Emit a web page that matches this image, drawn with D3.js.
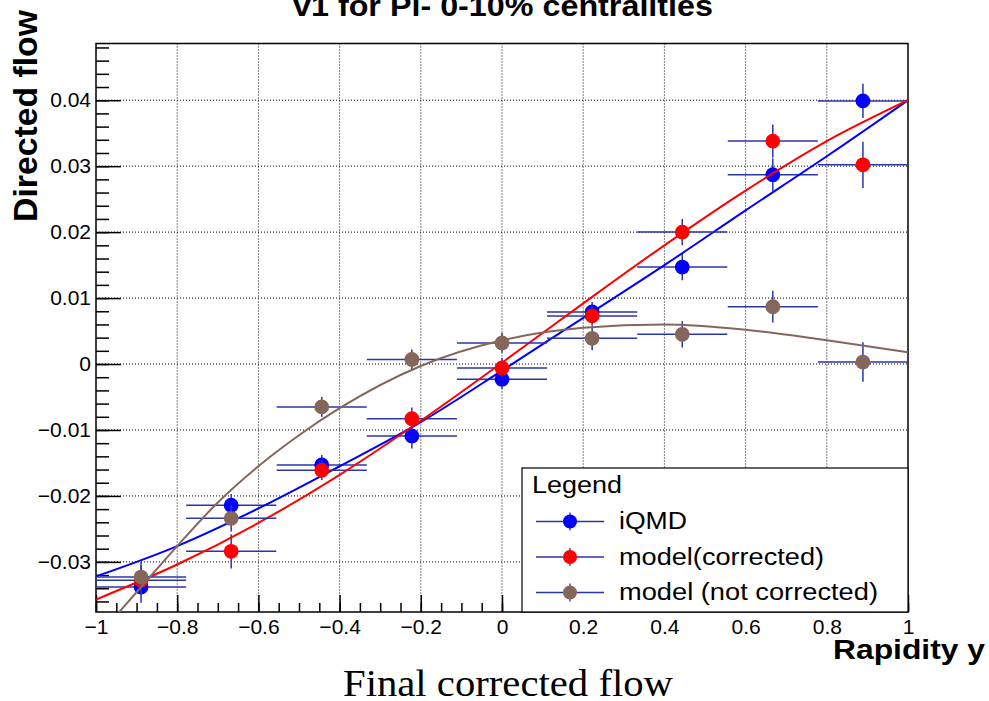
<!DOCTYPE html>
<html>
<head>
<meta charset="utf-8">
<script src="https://cdn.jsdelivr.net/npm/d3@7/dist/d3.min.js"></script>
<style>
  body { margin: 0; background: #fff; }
  svg text { font-family: "Liberation Sans", Arial, sans-serif; }
</style>
</head>
<body>
<div id="vis"></div>
<script>
// rapidity bins (centres) and half width of each bin
const rapidity = [-0.889, -0.667, -0.444, -0.222, 0, 0.222, 0.444, 0.667, 0.889];
const binHalf = 0.111;

// v1 values
const iqmdV1   = [-0.0338, -0.0214, -0.0153, -0.0109, -0.0023, 0.0079, 0.0147, 0.0287, 0.0399];
const iqmdErr  = [0.0024, 0.0017, 0.0015, 0.0019, 0.0015, 0.0015, 0.0020, 0.0025, 0.0026];
const corrV1   = [-0.0328, -0.0284, -0.0161, -0.0083, -0.0006, 0.0073, 0.0200, 0.0338, 0.0302];
const corrErr  = [0.0022, 0.0026, 0.0015, 0.0017, 0.0015, 0.0015, 0.0020, 0.0025, 0.0035];
const rawV1    = [-0.0323, -0.0234, -0.0065, 0.0007, 0.0032, 0.0039, 0.0045, 0.0087, 0.0003];
const rawErr   = [0.0023, 0.0020, 0.0015, 0.0015, 0.0015, 0.0018, 0.0020, 0.0024, 0.0030];

// fit curves
const fitX      = [-1, -0.8, -0.6, -0.4, -0.2, 0, 0.2, 0.4, 0.6, 0.8, 1];
const fitIqmd   = [-0.0322, -0.0276, -0.0219, -0.0155, -0.0088, -0.0010, 0.0070, 0.0150, 0.0233, 0.0315, 0.0400];
const fitCorr   = [-0.0357, -0.0304, -0.0241, -0.0168, -0.0086, 0.0002, 0.0092, 0.0180, 0.0263, 0.0338, 0.0400];
const fitRawX   = [-0.96, -0.9, -0.8, -0.7, -0.6, -0.5, -0.4, -0.2, 0, 0.2, 0.4, 0.6, 0.8, 1];
const fitRaw    = [-0.0388, -0.0346, -0.0276, -0.0210, -0.0155, -0.0108, -0.0067, -0.0003, 0.0036, 0.0055, 0.0060, 0.0052, 0.0036, 0.0018];

// axes
const xTicks = [-1, -0.8, -0.6, -0.4, -0.2, 0, 0.2, 0.4, 0.6, 0.8, 1];
const xTickLabels = ["\u22121", "\u22120.8", "\u22120.6", "\u22120.4", "\u22120.2", "0", "0.2", "0.4", "0.6", "0.8", "1"];
const yTicks = [-0.03, -0.02, -0.01, 0, 0.01, 0.02, 0.03, 0.04];
const yTickLabels = ["\u22120.03", "\u22120.02", "\u22120.01", "0", "0.01", "0.02", "0.03", "0.04"];

const seriesNames = ["iQMD", "model(corrected)", "model (not corrected)"];
const seriesColors = ["#0000ff", "#ff0000", "#85665a"];

var W = 989, H = 701;
var frame = {left: 96, top: 43.5, right: 908, bottom: 612};
var errColor = "#2a36a8";

var svg = d3.select("#vis").append("svg")
    .attr("width", W)
    .attr("height", H);

var x = d3.scaleLinear().domain([-1, 1]).range([frame.left, frame.right]);
var y = d3.scaleLinear().domain([-0.0376, 0.0486]).range([frame.bottom, frame.top]);

svg.append("defs").append("clipPath").attr("id", "plotclip")
  .append("rect")
    .attr("x", frame.left).attr("y", frame.top)
    .attr("width", frame.right - frame.left)
    .attr("height", frame.bottom - frame.top);

// GRID
var grid = svg.append("g").attr("class", "grid");
grid.selectAll(".gx").data(xTicks.slice(1, -1)).enter().append("line")
    .attr("x1", d => x(d)).attr("x2", d => x(d))
    .attr("y1", frame.top).attr("y2", frame.bottom)
    .attr("stroke", "#000").attr("stroke-width", 1).attr("stroke-dasharray", "1,2");
grid.selectAll(".gy").data(yTicks).enter().append("line")
    .attr("x1", frame.left).attr("x2", frame.right)
    .attr("y1", d => y(d)).attr("y2", d => y(d))
    .attr("stroke", "#000").attr("stroke-width", 1).attr("stroke-dasharray", "1,2");

// AXES (ticks point into the frame like ROOT)
var xMinor = d3.range(-1, 1.0001, 0.05);
var yMinor = d3.range(-0.036, 0.0481, 0.002);

svg.append("g")
    .attr("transform", "translate(0," + frame.bottom + ")")
    .call(d3.axisBottom(x).tickValues(xMinor).tickSize(-9).tickFormat(""))
    .call(g => g.select(".domain").remove());
svg.append("g")
    .attr("transform", "translate(0," + frame.bottom + ")")
    .call(d3.axisBottom(x).tickValues(xTicks).tickSize(-17).tickPadding(7)
      .tickFormat((d, i) => xTickLabels[i]))
    .call(g => g.select(".domain").remove())
    .call(g => g.selectAll("text").attr("font-size", 21).attr("fill", "#000")
      .attr("font-family", "Liberation Sans, Arial, sans-serif"));

svg.append("g")
    .attr("transform", "translate(" + frame.left + ",0)")
    .call(d3.axisLeft(y).tickValues(yMinor).tickSize(-13).tickFormat(""))
    .call(g => g.select(".domain").remove());
svg.append("g")
    .attr("transform", "translate(" + frame.left + ",0)")
    .call(d3.axisLeft(y).tickValues(yTicks).tickSize(-25).tickPadding(5)
      .tickFormat((d, i) => yTickLabels[i]))
    .call(g => g.select(".domain").remove())
    .call(g => g.selectAll("text").attr("font-size", 21).attr("fill", "#000")
      .attr("font-family", "Liberation Sans, Arial, sans-serif"));

svg.selectAll(".tick line").attr("stroke", "#000").attr("stroke-width", 1.5);

// FRAME
svg.append("rect")
    .attr("x", frame.left).attr("y", frame.top)
    .attr("width", frame.right - frame.left)
    .attr("height", frame.bottom - frame.top)
    .attr("fill", "none").attr("stroke", "#000").attr("stroke-width", 1.5);

// GRAPHS
var line = d3.line().curve(d3.curveMonotoneX);
var graphs = [
  {v: iqmdV1, e: iqmdErr, fx: fitX, fy: fitIqmd, color: seriesColors[0]},
  {v: corrV1, e: corrErr, fx: fitX, fy: fitCorr, color: seriesColors[1]},
  {v: rawV1, e: rawErr, fx: fitRawX, fy: fitRaw, color: seriesColors[2]}
];

graphs.forEach(function(gr) {
  var g = svg.append("g");
  var pts = rapidity.map((r, i) => ({r: r, v: gr.v[i], e: gr.e[i]}));

  g.selectAll(".ex").data(pts).enter().append("line")
      .attr("x1", d => x(d.r - binHalf)).attr("x2", d => x(d.r + binHalf))
      .attr("y1", d => y(d.v)).attr("y2", d => y(d.v))
      .attr("stroke", errColor).attr("stroke-width", 1.5);
  g.selectAll(".ey").data(pts).enter().append("line")
      .attr("x1", d => x(d.r)).attr("x2", d => x(d.r))
      .attr("y1", d => y(d.v - d.e)).attr("y2", d => y(d.v + d.e))
      .attr("stroke", errColor).attr("stroke-width", 1.5);
  g.selectAll("circle").data(pts).enter().append("circle")
      .attr("cx", d => x(d.r)).attr("cy", d => y(d.v))
      .attr("r", 7.4)
      .attr("fill", gr.color);

  g.append("path")
      .attr("clip-path", "url(#plotclip)")
      .attr("d", line(gr.fx.map((fx, i) => [x(fx), y(gr.fy[i])])))
      .attr("fill", "none")
      .attr("stroke", gr.color)
      .attr("stroke-width", 2);
});

// LEGEND
var leg = svg.append("g");
leg.append("rect")
    .attr("x", 522).attr("y", 468)
    .attr("width", frame.right - 522).attr("height", frame.bottom - 468)
    .attr("fill", "#fff").attr("stroke", "#000").attr("stroke-width", 1.2);
leg.append("text")
    .attr("x", 532).attr("y", 493)
    .attr("font-size", 23)
    .attr("textLength", 90).attr("lengthAdjust", "spacingAndGlyphs")
    .text("Legend");

var legWidths = [68, 205, 259];
seriesNames.forEach(function(name, i) {
  var base = 529 + i * 35.5;
  var my = base - 7.5;
  leg.append("line")
      .attr("x1", 536).attr("x2", 604).attr("y1", my).attr("y2", my)
      .attr("stroke", errColor).attr("stroke-width", 1.3);
  leg.append("line")
      .attr("x1", 570).attr("x2", 570).attr("y1", my - 9).attr("y2", my + 9)
      .attr("stroke", errColor).attr("stroke-width", 1.3);
  leg.append("circle")
      .attr("cx", 570).attr("cy", my).attr("r", 7)
      .attr("fill", seriesColors[i]);
  leg.append("text")
      .attr("x", 619).attr("y", base)
      .attr("font-size", 23)
      .attr("textLength", legWidths[i]).attr("lengthAdjust", "spacingAndGlyphs")
      .text(name);
});

// TITLES
svg.append("text")
    .attr("x", 503).attr("y", 16)
    .attr("text-anchor", "middle")
    .attr("font-size", 30).attr("font-weight", "bold")
    .attr("textLength", 420).attr("lengthAdjust", "spacingAndGlyphs")
    .text("v1 for Pi- 0-10% centralities");

svg.append("text")
    .attr("transform", "translate(37,10) rotate(-90)")
    .attr("text-anchor", "end")
    .attr("font-size", 33).attr("font-weight", "bold")
    .attr("textLength", 212).attr("lengthAdjust", "spacingAndGlyphs")
    .text("Directed flow");

svg.append("text")
    .attr("x", 985).attr("y", 659)
    .attr("text-anchor", "end")
    .attr("font-size", 27).attr("font-weight", "bold")
    .attr("textLength", 152).attr("lengthAdjust", "spacingAndGlyphs")
    .text("Rapidity y");

svg.append("text")
    .attr("x", 343).attr("y", 696)
    .style("font-family", "'Liberation Serif', 'Times New Roman', serif")
    .attr("font-size", 38)
    .attr("textLength", 330).attr("lengthAdjust", "spacingAndGlyphs")
    .text("Final corrected flow");
</script>
</body>
</html>
